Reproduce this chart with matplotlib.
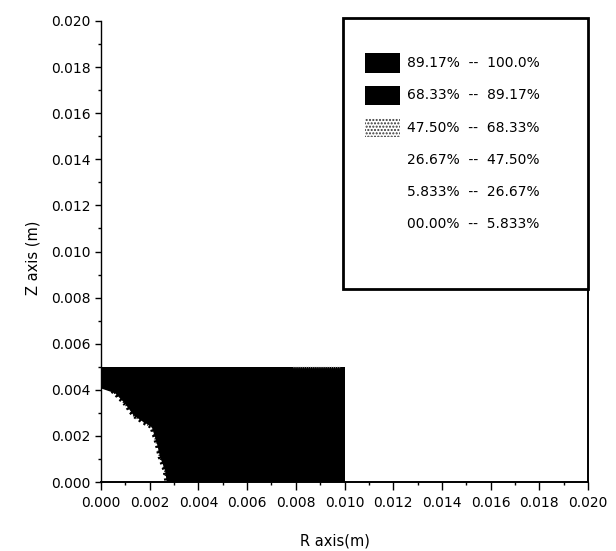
import numpy as np
import matplotlib
matplotlib.use("Agg")
import matplotlib.pyplot as plt
from matplotlib.patches import Rectangle
from matplotlib.ticker import FixedLocator, FixedFormatter, MultipleLocator

plt.rcParams['font.family'] = ['DejaVu Sans']

# Computational domain (sample block) in metres
domain_r = 0.010
domain_z = 0.005

# Position of the conversion front (outer edge of the low-level region)
front_r = [0.0, 0.00058, 0.00099, 0.00133, 0.00174, 0.00208, 0.00229, 0.00242, 0.00263, 0.0027]
front_z = [0.00406, 0.00385, 0.0034, 0.0029, 0.0026, 0.0024, 0.0017, 0.0011, 0.0005, 0.0]

# Stippled fringe (47.50 % -- 68.33 %) along the front, including the top-left corner
fringe_r = [0.0, 0.0002, 0.00058, 0.00099, 0.00133, 0.00174, 0.00208, 0.00229, 0.00242, 0.00263, 0.0027]
fringe_z = [0.0045, 0.0042, 0.00385, 0.0034, 0.0029, 0.0026, 0.0024, 0.0017, 0.0011, 0.0005, 0.0]

# Short stippled stretch on the top edge of the block
top_fringe_r = [0.0079, 0.0098]
top_fringe_z = [0.00497, 0.00497]

# Contour level bands
level_labels = ["89.17%  --  100.0%", "68.33%  --  89.17%", "47.50%  --  68.33%",
                "26.67%  --  47.50%", "5.833%  --  26.67%", "00.00%  --  5.833%"]
level_fill = ["solid", "solid", "stipple", "none", "none", "none"]

# Axis ticks
x_ticks = [0.000, 0.002, 0.004, 0.006, 0.008, 0.010, 0.012, 0.014, 0.016, 0.018, 0.020]
x_tick_labels = ["0.000", "0.002", "0.004", "0.006", "0.008", "0.010",
                 "0.012", "0.014", "0.016", "0.018", "0.020"]
y_ticks = [0.000, 0.002, 0.004, 0.006, 0.008, 0.010, 0.012, 0.014, 0.016, 0.018, 0.020]
y_tick_labels = ["0.000", "0.002", "0.004", "0.006", "0.008", "0.010",
                 "0.012", "0.014", "0.016", "0.018", "0.020"]

W, H = 616, 551
fig = plt.figure(figsize=(W / 100, H / 100), dpi=100)
ax_left, ax_right, ax_bottom, ax_top = 101, 588, 482, 21
ax = fig.add_axes([ax_left / W, (H - ax_bottom) / H,
                   (ax_right - ax_left) / W, (ax_bottom - ax_top) / H])

ax.set_xlim(0, 0.020)
ax.set_ylim(0, 0.020)

# Filled block: high-level band everywhere inside the domain
ax.fill_between([0, domain_r], 0, domain_z, color='black', lw=0, zorder=1)
# Low-level region near the axis origin
ax.fill([0.0] + front_r, [0.0] + front_z, color='white', lw=0, zorder=2)
# Stippled transition band along the front
ax.plot(fringe_r, fringe_z, color='black', lw=3.4, ls=(0, (0.45, 0.75)), zorder=3)
ax.plot(fringe_r, fringe_z, color='black', lw=1.6, ls=(0.6, (0.5, 1.4)), zorder=3)
ax.plot(top_fringe_r, top_fringe_z, color='#888888', lw=1.0, ls=(0, (0.6, 0.9)), zorder=3)

# Axes styling
ax.spines['top'].set_visible(False)
ax.spines['left'].set_linewidth(1.0)
ax.spines['bottom'].set_linewidth(1.4)
ax.spines['right'].set_linewidth(1.4)

ax.xaxis.set_major_locator(FixedLocator(x_ticks))
ax.xaxis.set_major_formatter(FixedFormatter(x_tick_labels))
ax.yaxis.set_major_locator(FixedLocator(y_ticks))
ax.yaxis.set_major_formatter(FixedFormatter(y_tick_labels))
ax.xaxis.set_minor_locator(MultipleLocator(0.001))
ax.yaxis.set_minor_locator(MultipleLocator(0.001))

ax.tick_params(axis='x', which='major', direction='out', length=5.8, width=1.0,
               labelsize=10, pad=4)
ax.tick_params(axis='x', which='minor', direction='out', length=2.5, width=1.0)
ax.tick_params(axis='y', which='major', direction='out', length=4.3, width=1.0,
               labelsize=10, pad=3)
ax.tick_params(axis='y', which='minor', direction='out', length=2.0, width=1.0)
ax.tick_params(right=False, which='both')

ax.set_xlabel("R axis(m)", fontsize=10.5)
ax.set_ylabel("Z axis (m)", fontsize=10.5)
ax.xaxis.set_label_coords((335 - ax_left) / (ax_right - ax_left),
                          (ax_bottom - 534) / (ax_bottom - ax_top))
ax.yaxis.set_label_coords((40 - ax_left) / (ax_right - ax_left),
                          (ax_bottom - 258) / (ax_bottom - ax_top))


def to_ax(px, py):
    return ((px - ax_left) / (ax_right - ax_left),
            (ax_bottom - py) / (ax_bottom - ax_top))


# Level legend box
bx0, by0 = to_ax(343, 289)
bx1, by1 = to_ax(588, 18)
ax.add_patch(Rectangle((bx0, by0), bx1 - bx0, by1 - by0, transform=ax.transAxes,
                       facecolor='white', edgecolor='black', lw=2.0,
                       clip_on=False, zorder=5))

row_step = 32.3
for i, (label, fill) in enumerate(zip(level_labels, level_fill)):
    cy = 63 + i * row_step
    sx0, sy0 = to_ax(365, cy + 9.5)
    sx1, sy1 = to_ax(400, cy - 9.5)
    if fill == "solid":
        ax.add_patch(Rectangle((sx0, sy0), sx1 - sx0, sy1 - sy0, transform=ax.transAxes,
                               facecolor='black', edgecolor='black', lw=0,
                               clip_on=False, zorder=6))
    elif fill == "stipple":
        ax.add_patch(Rectangle((sx0, sy0), sx1 - sx0, sy1 - sy0, transform=ax.transAxes,
                               facecolor='white', edgecolor='#333333', lw=0,
                               hatch='.....', clip_on=False, zorder=6))
    tx, ty = to_ax(407, cy)
    ax.text(tx, ty, label, transform=ax.transAxes, ha='left', va='center',
            fontsize=10, zorder=7, clip_on=False)

fig.savefig("out.png", dpi=100)
